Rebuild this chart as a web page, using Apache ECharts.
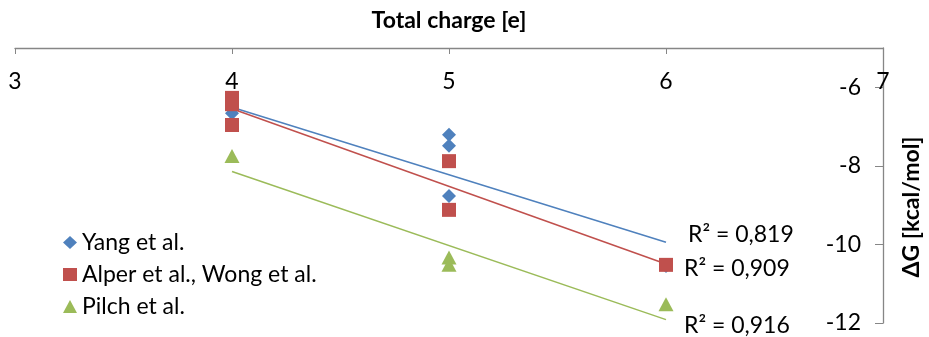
<!DOCTYPE html>
<html>
<head>
<meta charset="utf-8">
<script src="https://cdn.jsdelivr.net/npm/echarts@6/dist/echarts.min.js"></script>
<style>
html,body{margin:0;padding:0;background:#fff;}
#chart{width:929px;height:337px;}
</style>
</head>
<body>
<div id="chart"></div>
<script>
// ---- data ----
const seriesNames = ['Yang et al.', 'Alper et al., Wong et al.', 'Pilch et al.'];
const yangX = [4, 4, 5, 5, 5, 6];
const yangY = [-6.66, -6.96, -7.21, -7.49, -8.77, -10.55];
const alperX = [4, 4, 4, 5, 5, 6];
const alperY = [-6.27, -6.43, -6.96, -7.88, -9.12, -10.52];
const pilchX = [4, 5, 5, 6];
const pilchY = [-7.75, -10.33, -10.52, -11.52];
const r2Labels = ['R² = 0,819', 'R² = 0,909', 'R² = 0,916'];
const xTicks = [3, 4, 5, 6, 7];
const yTicks = [-12, -10, -8, -6];

const FONT = 'Lato, "Open Sans", sans-serif';
const FS = 23;
const colors = ['#4F81BD', '#C0504D', '#9BBB59'];
const symbols = ['diamond', 'rect', 'triangle'];

function pairs(xs, ys) { return xs.map((x, i) => [x, ys[i]]); }
function trend(xs, ys) {
  const n = xs.length;
  const mx = xs.reduce((a, b) => a + b, 0) / n;
  const my = ys.reduce((a, b) => a + b, 0) / n;
  let sxx = 0, sxy = 0;
  for (let i = 0; i < n; i++) { sxx += (xs[i] - mx) ** 2; sxy += (xs[i] - mx) * (ys[i] - my); }
  const b = sxy / sxx, a = my - b * mx;
  const x0 = Math.min(...xs), x1 = Math.max(...xs);
  return [[x0, a + b * x0], [x1, a + b * x1]];
}

const sets = [[yangX, yangY], [alperX, alperY], [pilchX, pilchY]];
const labelOffsets = [[17, -8], [13, 5], [13, 6]];

const series = [];
sets.forEach((s, i) => {
  const t = trend(s[0], s[1]);
  series.push({
    name: seriesNames[i] + ' trend',
    type: 'line',
    data: t,
    symbol: 'none',
    lineStyle: { color: colors[i], width: 1.5 },
    endLabel: {
      show: true, formatter: r2Labels[i], distance: 5,
      offset: labelOffsets[i], fontFamily: FONT, fontSize: FS, color: '#000'
    },
    z: 1,
    silent: true,
    animation: false
  });
});
sets.forEach((s, i) => {
  series.push({
    name: seriesNames[i],
    type: 'scatter',
    data: pairs(s[0], s[1]),
    symbol: symbols[i],
    symbolSize: i === 2 ? [15, 14] : 14,
    itemStyle: { color: colors[i], opacity: 1 },
    z: 2 + i,
    animation: false
  });
});

const chart = echarts.init(document.getElementById('chart'));
chart.setOption({
  backgroundColor: '#fff',
  animation: false,
  grid: { left: 15, right: 46, top: 48, bottom: 14, containLabel: false },
  legend: {
    data: seriesNames.map((n, i) => ({ name: n, icon: symbols[i], itemStyle: { opacity: 1 } })),
    orient: 'vertical',
    left: 58,
    top: 226,
    itemWidth: 14,
    itemHeight: 13,
    itemGap: 9,
    textStyle: { fontFamily: FONT, fontSize: FS, color: '#000', lineHeight: 23 },
    selectedMode: false
  },
  xAxis: {
    type: 'value',
    position: 'top',
    min: xTicks[0],
    max: xTicks[xTicks.length - 1],
    interval: 1,
    name: 'Total charge [e]',
    nameLocation: 'middle',
    nameGap: 16,
    nameTextStyle: { fontFamily: FONT, fontSize: FS, fontWeight: 'bold', color: '#000' },
    axisLine: { onZero: false, lineStyle: { color: '#868686', width: 1.3 } },
    axisTick: { inside: true, length: 6, lineStyle: { color: '#868686' } },
    axisLabel: { inside: true, margin: 22, fontFamily: FONT, fontSize: FS, color: '#000' },
    splitLine: { show: false }
  },
  yAxis: {
    type: 'value',
    position: 'right',
    min: yTicks[0],
    max: -5,
    interval: 2,
    axisLine: { show: true, onZero: false, lineStyle: { color: '#868686', width: 1.3 } },
    axisTick: { show: true, inside: true, length: 8, lineStyle: { color: '#868686' } },
    axisLabel: {
      inside: true, margin: 22, fontFamily: FONT, fontSize: FS, color: '#000',
      showMaxLabel: false,
      formatter: v => (yTicks.indexOf(v) >= 0 ? String(v) : '')
    },
    splitLine: { show: false }
  },
  graphic: [{
    type: 'text',
    x: 912, y: 207,
    rotation: Math.PI / 2,
    style: {
      text: 'ΔG [kcal/mol]',
      fontFamily: FONT, fontSize: FS, fontWeight: 'bold', fill: '#000',
      align: 'center', verticalAlign: 'middle'
    }
  }],
  series: series
});
</script>
</body>
</html>
